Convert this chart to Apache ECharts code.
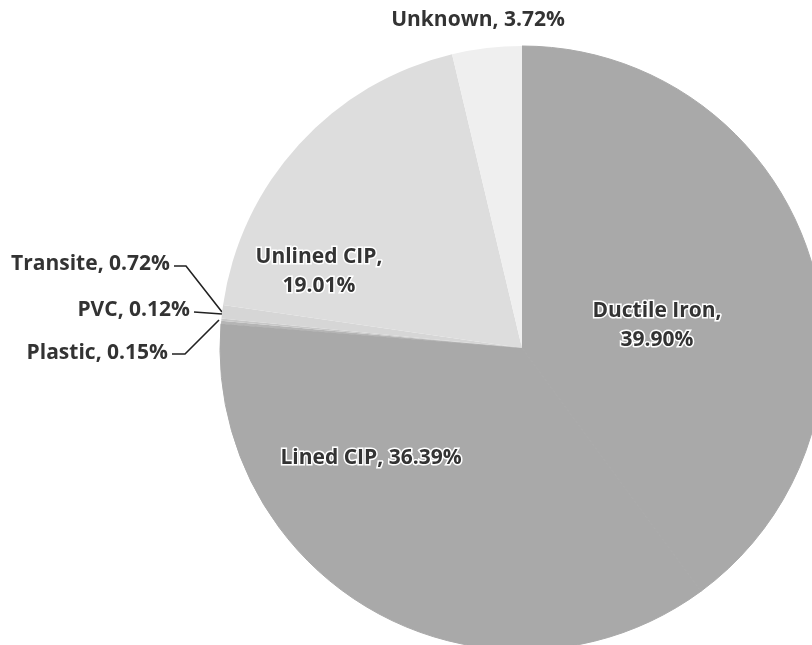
<!DOCTYPE html>
<html><head><meta charset="utf-8">
<script src="https://cdn.jsdelivr.net/npm/echarts@6/dist/echarts.min.js"></script>
<style>html,body{margin:0;padding:0;background:#fff}#c{width:812px;height:645px}</style>
</head><body><div id="c"></div>
<script>
const categories = ['Ductile Iron', 'Lined CIP', 'Plastic', 'PVC', 'Transite', 'Unlined CIP', 'Unknown'];
const values = [39.90, 36.39, 0.15, 0.12, 0.72, 19.01, 3.72];
const colors = ['#a9a9a9', '#a9a9a9', '#b5b5b5', '#c8c8c8', '#d6d6d6', '#dddddd', '#efefef'];
// label anchor placement (x, y) and leader paths, layout only
const labelPos = {
  0: {x: 657, y: 326, align: 'center'},
  1: {x: 371, y: 458, align: 'center'},
  2: {x: 168, y: 353, align: 'right', line: [[172, 354], [185, 354], [219, 320]]},
  3: {x: 190, y: 310, align: 'right', line: [[194, 312], [222, 314]]},
  4: {x: 170, y: 264, align: 'right', line: [[174, 266], [186, 266], [222, 312]]},
  5: {x: 319, y: 272, align: 'center'},
  6: {x: 478, y: 20, align: 'center'}
};
const inside = {0: true, 1: true, 5: true};
const chart = echarts.init(document.getElementById('c'), null, {renderer: 'canvas'});
chart.setOption({
  animation: false,
  series: [{
    type: 'pie',
    center: [522, 348],
    radius: 302,
    startAngle: 90,
    clockwise: true,
    avoidLabelOverlap: false,
    itemStyle: {borderWidth: 0},
    label: {
      show: true,
      fontFamily: 'Open Sans',
      fontWeight: 'bold',
      fontSize: 21,
      color: '#333',
      lineHeight: 29,
      formatter: p => inside[p.dataIndex] && p.dataIndex !== 1
        ? p.name + ',\n' + p.value.toFixed(2) + '%'
        : p.name + ', ' + p.value.toFixed(2) + '%'
    },
    labelLine: {show: true, lineStyle: {color: '#222', width: 1.6}},
    labelLayout: p => {
      const lp = labelPos[p.dataIndex];
      const o = {x: lp.x, y: lp.y, align: lp.align, verticalAlign: 'middle'};
      if (lp.line) o.labelLinePoints = lp.line;
      return o;
    },
    data: categories.map((c, i) => ({
      name: c, value: values[i],
      itemStyle: i < 2 ? {color: colors[i], borderColor: colors[i], borderWidth: 1} : {color: colors[i]},
      label: inside[i] ? {textBorderColor: '#fff', textBorderWidth: 3} : {},
      labelLine: {show: !!labelPos[i].line}
    }))
  }]
});
</script></body></html>
